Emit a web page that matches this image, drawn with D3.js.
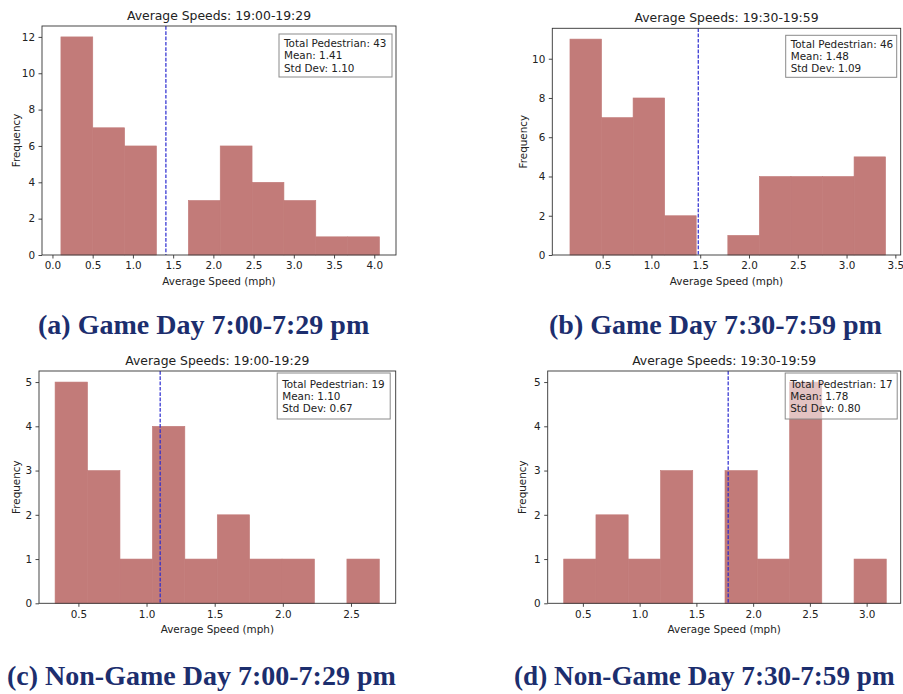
<!DOCTYPE html>
<html>
<head>
<meta charset="utf-8">
<script src="https://cdn.jsdelivr.net/npm/d3@7"></script>
<style>
  html, body { margin: 0; padding: 0; background: #fff; }
  svg { display: block; }
</style>
</head>
<body>
<svg id="fig" width="903" height="694"></svg>
<script>
// Histogram counts per bin (10 bins each) and the bin edges in mph
const countsA = [12, 7, 6, 0, 3, 6, 4, 3, 1, 1];
const edgesA  = [0.105, 0.501, 0.897, 1.293, 1.689, 2.085, 2.481, 2.877, 3.273, 3.669, 4.065];
const countsB = [11, 7, 8, 2, 0, 1, 4, 4, 4, 5];
const edgesB  = [0.165, 0.489, 0.812, 1.136, 1.459, 1.783, 2.106, 2.430, 2.753, 3.077, 3.400];
const countsC = [5, 3, 1, 4, 1, 2, 1, 1, 0, 1];
const edgesC  = [0.329, 0.567, 0.805, 1.043, 1.281, 1.519, 1.756, 1.994, 2.232, 2.470, 2.708];
const countsD = [1, 2, 1, 3, 0, 3, 1, 5, 0, 1];
const edgesD  = [0.331, 0.615, 0.899, 1.184, 1.468, 1.752, 2.036, 2.321, 2.605, 2.889, 3.173];

// Summary statistics shown in each stats box
const totals  = [43, 46, 19, 17];
const means   = [1.41, 1.48, 1.10, 1.78];
const stdDevs = [1.10, 1.09, 0.67, 0.80];

// Text
const titles   = ["Average Speeds: 19:00-19:29", "Average Speeds: 19:30-19:59",
                  "Average Speeds: 19:00-19:29", "Average Speeds: 19:30-19:59"];
const captions = ["(a) Game Day 7:00-7:29 pm", "(b) Game Day 7:30-7:59 pm",
                  "(c) Non-Game Day 7:00-7:29 pm", "(d) Non-Game Day 7:30-7:59 pm"];
const xLabel = "Average Speed (mph)";
const yLabel = "Frequency";

// Tick values
const xTicksA = [0.0, 0.5, 1.0, 1.5, 2.0, 2.5, 3.0, 3.5, 4.0];
const xTicksB = [0.5, 1.0, 1.5, 2.0, 2.5, 3.0, 3.5];
const xTicksC = [0.5, 1.0, 1.5, 2.0, 2.5];
const xTicksD = [0.5, 1.0, 1.5, 2.0, 2.5, 3.0];
const yTicksA = [0, 2, 4, 6, 8, 10, 12];
const yTicksB = [0, 2, 4, 6, 8, 10];
const yTicksC = [0, 1, 2, 3, 4, 5];
const yTicksD = [0, 1, 2, 3, 4, 5];

// Layout of each panel: axes box [left, top, right, bottom], scale extents, label spots
const panels = [
  { counts: countsA, edges: edgesA, xTicks: xTicksA, yTicks: yTicksA, fmt: d3.format(".1f"),
    box: [42, 26, 396, 255], xDomain: [-0.13, 4.27], yMax: 12.6, yLabelX: 16.5,
    stats: { right: 4, top: 8, w: 113, h: 43 }, cap: { x: 38, y: 334, size: 28 } },
  { counts: countsB, edges: edgesB, xTicks: xTicksB, yTicks: yTicksB, fmt: d3.format(".1f"),
    box: [552.3, 28.3, 900.7, 255], xDomain: [-0.016, 3.555], yMax: 11.55, yLabelX: 523,
    stats: { right: 4, top: 7, w: 111, h: 42 }, cap: { x: 549, y: 334, size: 28 } },
  { counts: countsC, edges: edgesC, xTicks: xTicksC, yTicks: yTicksC, fmt: d3.format(".1f"),
    box: [39, 371, 395.7, 603.3], xDomain: [0.211, 2.828], yMax: 5.25, yLabelX: 16,
    stats: { right: 5.5, top: 2, w: 113, h: 46 }, cap: { x: 7, y: 685, size: 28 } },
  { counts: countsD, edges: edgesD, xTicks: xTicksD, yTicks: yTicksD, fmt: d3.format(".1f"),
    box: [547.7, 371, 900.7, 603.3], xDomain: [0.19, 3.30], yMax: 5.25, yLabelX: 522.5,
    stats: { right: 3.5, top: 2, w: 112, h: 46 }, cap: { x: 514, y: 685, size: 27.2 } }
];

const barColor = "#c27b79";
const spineColor = "#333";
const textColor = "#222";
const font = "'DejaVu Sans', sans-serif";

const svg = d3.select("#fig");
svg.append("rect").attr("width", 903).attr("height", 694).attr("fill", "#fff");

panels.forEach((p, i) => {
  const [L, T, R, B] = p.box;
  const x = d3.scaleLinear().domain(p.xDomain).range([L, R]);
  const y = d3.scaleLinear().domain([0, p.yMax]).range([B, T]);
  const g = svg.append("g");

  // histogram bars
  const bins = p.counts.map((c, k) => ({ x0: p.edges[k], x1: p.edges[k + 1], n: c }))
                       .filter(b => b.n > 0);
  g.selectAll("rect.bar").data(bins).join("rect")
    .attr("class", "bar")
    .attr("x", b => x(b.x0))
    .attr("width", b => x(b.x1) - x(b.x0))
    .attr("y", b => y(b.n))
    .attr("height", b => y(0) - y(b.n))
    .attr("fill", barColor)
    .attr("stroke", barColor).attr("stroke-width", 0.6);

  // dashed mean line
  g.append("line")
    .attr("x1", x(means[i])).attr("x2", x(means[i]))
    .attr("y1", T).attr("y2", B)
    .attr("stroke", "#2b2bd0").attr("stroke-width", 1.2)
    .attr("stroke-dasharray", "3.7,1.6");

  // axes
  const xAxis = d3.axisBottom(x).tickValues(p.xTicks).tickFormat(p.fmt)
    .tickSize(3.5).tickPadding(3.5);
  const yAxis = d3.axisLeft(y).tickValues(p.yTicks).tickFormat(d3.format("d"))
    .tickSize(3.5).tickPadding(3.5);
  const gx = g.append("g").attr("transform", `translate(0,${B})`).call(xAxis);
  const gy = g.append("g").attr("transform", `translate(${L},0)`).call(yAxis);
  [gx, gy].forEach(a => {
    a.select(".domain").remove();
    a.selectAll(".tick line").attr("stroke", spineColor).attr("stroke-width", 0.9);
    a.selectAll(".tick text").attr("fill", textColor)
      .style("font-family", font).style("font-size", "10.4px");
  });

  // frame
  g.append("rect")
    .attr("x", L).attr("y", T).attr("width", R - L).attr("height", B - T)
    .attr("fill", "none").attr("stroke", spineColor).attr("stroke-width", 0.9);

  // stats box
  const s = p.stats;
  const bx = R - s.right - s.w, by = T + s.top;
  g.append("rect")
    .attr("x", bx).attr("y", by).attr("width", s.w).attr("height", s.h)
    .attr("fill", "#fff").attr("fill-opacity", 0.55)
    .attr("stroke", "#8a8a8a").attr("stroke-width", 1);
  const lines = [`Total Pedestrian: ${totals[i]}`,
                 `Mean: ${means[i].toFixed(2)}`,
                 `Std Dev: ${stdDevs[i].toFixed(2)}`];
  const lineGap = 12.2;
  const firstBase = by + (s.h - 2 * lineGap) / 2 + 3.8;
  g.selectAll("text.stat").data(lines).join("text")
    .attr("class", "stat")
    .attr("x", bx + 5)
    .attr("y", (d, k) => firstBase + k * lineGap)
    .attr("fill", textColor)
    .style("font-family", font).style("font-size", "10.4px")
    .text(d => d);

  // title and axis labels
  g.append("text")
    .attr("x", (L + R) / 2).attr("y", T - 6.5)
    .attr("text-anchor", "middle").attr("fill", textColor)
    .style("font-family", font).style("font-size", "12.4px")
    .text(titles[i]);
  g.append("text")
    .attr("x", (L + R) / 2).attr("y", B + 30)
    .attr("text-anchor", "middle").attr("fill", textColor)
    .style("font-family", font).style("font-size", "10.4px")
    .text(xLabel);
  g.append("text")
    .attr("transform", `translate(${p.yLabelX},${(T + B) / 2}) rotate(-90)`)
    .attr("text-anchor", "middle").attr("dy", "0.35em").attr("fill", textColor)
    .style("font-family", font).style("font-size", "10.4px")
    .text(yLabel);

  // subfigure caption
  svg.append("text")
    .attr("x", p.cap.x).attr("y", p.cap.y)
    .attr("fill", "#1c2e6e")
    .style("font-family", "'Liberation Serif', 'DejaVu Serif', serif")
    .style("font-weight", "bold").style("font-size", p.cap.size + "px")
    .text(captions[i]);
});
</script>
</body>
</html>
